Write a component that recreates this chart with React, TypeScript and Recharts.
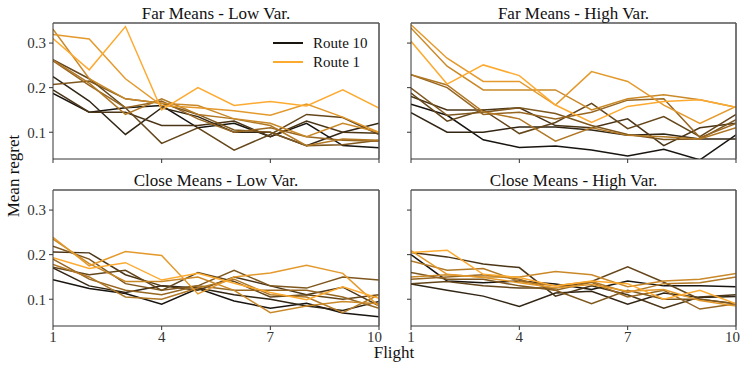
import React from "react";
import { LineChart, Line, XAxis, YAxis } from "recharts";

const flights = [1, 2, 3, 4, 5, 6, 7, 8, 9, 10];
const routeNames = ["Route 1", "Route 2", "Route 3", "Route 4", "Route 5", "Route 6", "Route 7", "Route 8", "Route 9", "Route 10"];
const xTicks = [1, 4, 7, 10];
const yTicks = [0.1, 0.2, 0.3];
const yDomain = [0.04, 0.345];

// one row per route (Route 1 .. Route 10), one value per flight
const farLow = [
  [0.31, 0.24, 0.337, 0.15, 0.2, 0.16, 0.169, 0.159, 0.195, 0.154],
  [0.319, 0.309, 0.22, 0.16, 0.155, 0.148, 0.138, 0.163, 0.134, 0.1],
  [0.331, 0.22, 0.175, 0.165, 0.16, 0.13, 0.12, 0.09, 0.12, 0.1],
  [0.262, 0.21, 0.14, 0.175, 0.14, 0.13, 0.115, 0.07, 0.085, 0.082],
  [0.26, 0.205, 0.155, 0.17, 0.13, 0.1, 0.11, 0.09, 0.082, 0.08],
  [0.207, 0.215, 0.175, 0.165, 0.14, 0.105, 0.1, 0.07, 0.072, 0.082],
  [0.263, 0.22, 0.155, 0.075, 0.11, 0.06, 0.095, 0.14, 0.133, 0.095],
  [0.195, 0.145, 0.145, 0.115, 0.115, 0.125, 0.09, 0.125, 0.1, 0.098],
  [0.225, 0.17, 0.095, 0.155, 0.135, 0.1, 0.1, 0.07, 0.1, 0.12],
  [0.187, 0.145, 0.155, 0.16, 0.11, 0.12, 0.09, 0.12, 0.07, 0.065],
];

const farHigh = [
  [0.304, 0.208, 0.251, 0.227, 0.161, 0.122, 0.158, 0.169, 0.173, 0.156],
  [0.341, 0.266, 0.214, 0.214, 0.161, 0.236, 0.214, 0.161, 0.12, 0.158],
  [0.334, 0.248, 0.195, 0.195, 0.195, 0.15, 0.175, 0.184, 0.173, 0.156],
  [0.229, 0.206, 0.146, 0.13, 0.08, 0.11, 0.093, 0.09, 0.085, 0.11],
  [0.229, 0.2, 0.14, 0.145, 0.13, 0.145, 0.172, 0.175, 0.088, 0.12],
  [0.199, 0.138, 0.145, 0.155, 0.142, 0.115, 0.095, 0.084, 0.085, 0.128],
  [0.188, 0.125, 0.15, 0.097, 0.122, 0.165, 0.108, 0.135, 0.09, 0.14],
  [0.18, 0.15, 0.15, 0.155, 0.115, 0.11, 0.13, 0.07, 0.11, 0.12],
  [0.144, 0.1, 0.1, 0.112, 0.112, 0.105, 0.093, 0.096, 0.085, 0.085],
  [0.163, 0.138, 0.083, 0.066, 0.069, 0.06, 0.047, 0.062, 0.038, 0.094],
];

const closeLow = [
  [0.193, 0.169, 0.182, 0.143, 0.158, 0.136, 0.115, 0.099, 0.128, 0.102],
  [0.239, 0.175, 0.207, 0.198, 0.112, 0.15, 0.159, 0.176, 0.158, 0.084],
  [0.235, 0.18, 0.14, 0.14, 0.15, 0.12, 0.07, 0.085, 0.095, 0.09],
  [0.178, 0.15, 0.105, 0.1, 0.125, 0.145, 0.11, 0.105, 0.07, 0.11],
  [0.19, 0.145, 0.12, 0.11, 0.13, 0.12, 0.12, 0.12, 0.105, 0.08],
  [0.219, 0.19, 0.135, 0.12, 0.13, 0.165, 0.13, 0.125, 0.15, 0.143],
  [0.172, 0.155, 0.165, 0.12, 0.16, 0.14, 0.105, 0.11, 0.1, 0.11],
  [0.206, 0.204, 0.155, 0.13, 0.12, 0.15, 0.13, 0.11, 0.127, 0.085],
  [0.17, 0.13, 0.115, 0.13, 0.125, 0.11, 0.1, 0.085, 0.075, 0.095],
  [0.144, 0.124, 0.113, 0.089, 0.124, 0.096, 0.08, 0.091, 0.069, 0.061],
];

const closeHigh = [
  [0.205, 0.21, 0.156, 0.149, 0.13, 0.141, 0.135, 0.1, 0.12, 0.09],
  [0.209, 0.156, 0.149, 0.137, 0.126, 0.133, 0.118, 0.122, 0.097, 0.085],
  [0.15, 0.155, 0.15, 0.15, 0.162, 0.155, 0.128, 0.141, 0.145, 0.158],
  [0.186, 0.165, 0.169, 0.14, 0.13, 0.14, 0.115, 0.135, 0.137, 0.15],
  [0.145, 0.15, 0.155, 0.145, 0.12, 0.138, 0.105, 0.12, 0.078, 0.09],
  [0.16, 0.145, 0.145, 0.13, 0.12, 0.09, 0.12, 0.1, 0.1, 0.09],
  [0.135, 0.14, 0.13, 0.125, 0.125, 0.14, 0.173, 0.138, 0.1, 0.09],
  [0.205, 0.195, 0.179, 0.171, 0.107, 0.13, 0.11, 0.08, 0.105, 0.11],
  [0.134, 0.12, 0.107, 0.084, 0.114, 0.118, 0.089, 0.114, 0.104, 0.106],
  [0.2, 0.141, 0.137, 0.141, 0.134, 0.122, 0.141, 0.13, 0.13, 0.128],
];

const FONT = '"Liberation Serif", "Times New Roman", Times, "DejaVu Serif", serif';

// orange (route 1) -> near black (route 10)
const routeColor = (i: number) => {
  const t = i / (routeNames.length - 1);
  const a = [253, 170, 48];
  const b = [24, 20, 16];
  const c = a.map((v, k) => Math.round(v + (b[k] - v) * t));
  return `rgb(${c[0]},${c[1]},${c[2]})`;
};

const toRows = (series: number[][]) =>
  flights.map((f, j) => {
    const row: Record<string, number> = { flight: f };
    series.forEach((vals, i) => {
      row[routeNames[i]] = vals[j];
    });
    return row;
  });

const MARGIN_TOP = 23;

// pixel layout of a panel, shared by the chart and the frame drawn over it
const layout = (left: number, top: number, showY: boolean, showX: boolean) => {
  const width = showY ? 382 : 370;
  const height = showX ? 200 : 175;
  const yAxisW = showY ? 53 : 41;
  const right = showY ? 3 : 4;
  const bottom = showX ? 16 : 6;
  const xAxisH = showX ? 25 : 10;
  return {
    width, height, yAxisW, right, bottom, xAxisH,
    plot: {
      x: left + yAxisW,
      y: top + MARGIN_TOP,
      w: width - yAxisW - right,
      h: height - MARGIN_TOP - bottom - xAxisH,
    },
  };
};

const panels = [
  { title: "Far Means - Low Var.", series: farLow, left: 0, top: 0, showY: true, showX: false },
  { title: "Far Means - High Var.", series: farHigh, left: 370, top: 0, showY: false, showX: false },
  { title: "Close Means - Low Var.", series: closeLow, left: 0, top: 167, showY: true, showX: true },
  { title: "Close Means - High Var.", series: closeHigh, left: 370, top: 167, showY: false, showX: true },
];

interface PanelProps {
  series: number[][];
  left: number;
  top: number;
  showY: boolean;
  showX: boolean;
}

function Panel({ series, left, top, showY, showX }: PanelProps) {
  const data = toRows(series);
  const L = layout(left, top, showY, showX);
  const tickStyle = { fontFamily: FONT, fontSize: 15, fill: "#333" };
  return (
    <div style={{ position: "absolute", left, top, width: L.width, height: L.height }}>
      <LineChart
        width={L.width}
        height={L.height}
        data={data}
        margin={{ top: MARGIN_TOP, right: L.right, left: 0, bottom: L.bottom }}
      >
        <XAxis
          dataKey="flight"
          type="number"
          domain={[1, 10]}
          ticks={xTicks}
          height={L.xAxisH}
          tickSize={4}
          tickMargin={1}
          stroke="#333"
          tick={tickStyle}
          tickFormatter={(v) => (showX ? String(v) : "")}
          allowDataOverflow
        />
        <YAxis
          type="number"
          domain={yDomain}
          ticks={yTicks}
          width={L.yAxisW}
          tickSize={4}
          tickMargin={3}
          stroke="#333"
          tick={tickStyle}
          tickFormatter={(v) => (showY ? Number(v).toFixed(1) : "")}
          allowDataOverflow
        />
        {routeNames
          .map((name, i) => (
            <Line
              key={name}
              dataKey={name}
              stroke={routeColor(i)}
              strokeWidth={1.5}
              dot={false}
              isAnimationActive={false}
            />
          ))
          .reverse()}
      </LineChart>
    </div>
  );
}

export default function App() {
  return (
    <div style={{ position: "absolute", left: 0, top: 0, width: 749, height: 367, background: "#fff", fontFamily: FONT }}>
      {panels.map((p) => (
        <Panel key={p.title} series={p.series} left={p.left} top={p.top} showY={p.showY} showX={p.showX} />
      ))}
      <svg width={749} height={367} style={{ position: "absolute", left: 0, top: 0, pointerEvents: "none" }}>
        {panels.map((p) => {
          const r = layout(p.left, p.top, p.showY, p.showX).plot;
          return (
            <g key={p.title}>
              <line x1={r.x} y1={r.y} x2={r.x + r.w} y2={r.y} stroke="#555" strokeWidth={1.6} />
              <line x1={r.x + r.w} y1={r.y} x2={r.x + r.w} y2={r.y + r.h} stroke="#555" strokeWidth={1.6} />
              <text x={r.x + r.w / 2} y={p.top + 19} fontFamily={FONT} fill="#111" fontSize={17} textAnchor="middle">
                {p.title}
              </text>
            </g>
          );
        })}
        <g fontFamily={FONT} fill="#111" fontSize={17} textAnchor="middle">
          <text x={394} y={358}>Flight</text>
          <text transform="translate(19,176) rotate(-90)">Mean regret</text>
        </g>
        <g fontFamily={FONT} fill="#111" fontSize={15}>
          <line x1={273} x2={303} y1={43} y2={43} stroke={routeColor(9)} strokeWidth={2} />
          <text x={313} y={48}>{routeNames[9]}</text>
          <line x1={273} x2={303} y1={62} y2={62} stroke={routeColor(0)} strokeWidth={2} />
          <text x={313} y={67}>{routeNames[0]}</text>
        </g>
      </svg>
    </div>
  );
}
